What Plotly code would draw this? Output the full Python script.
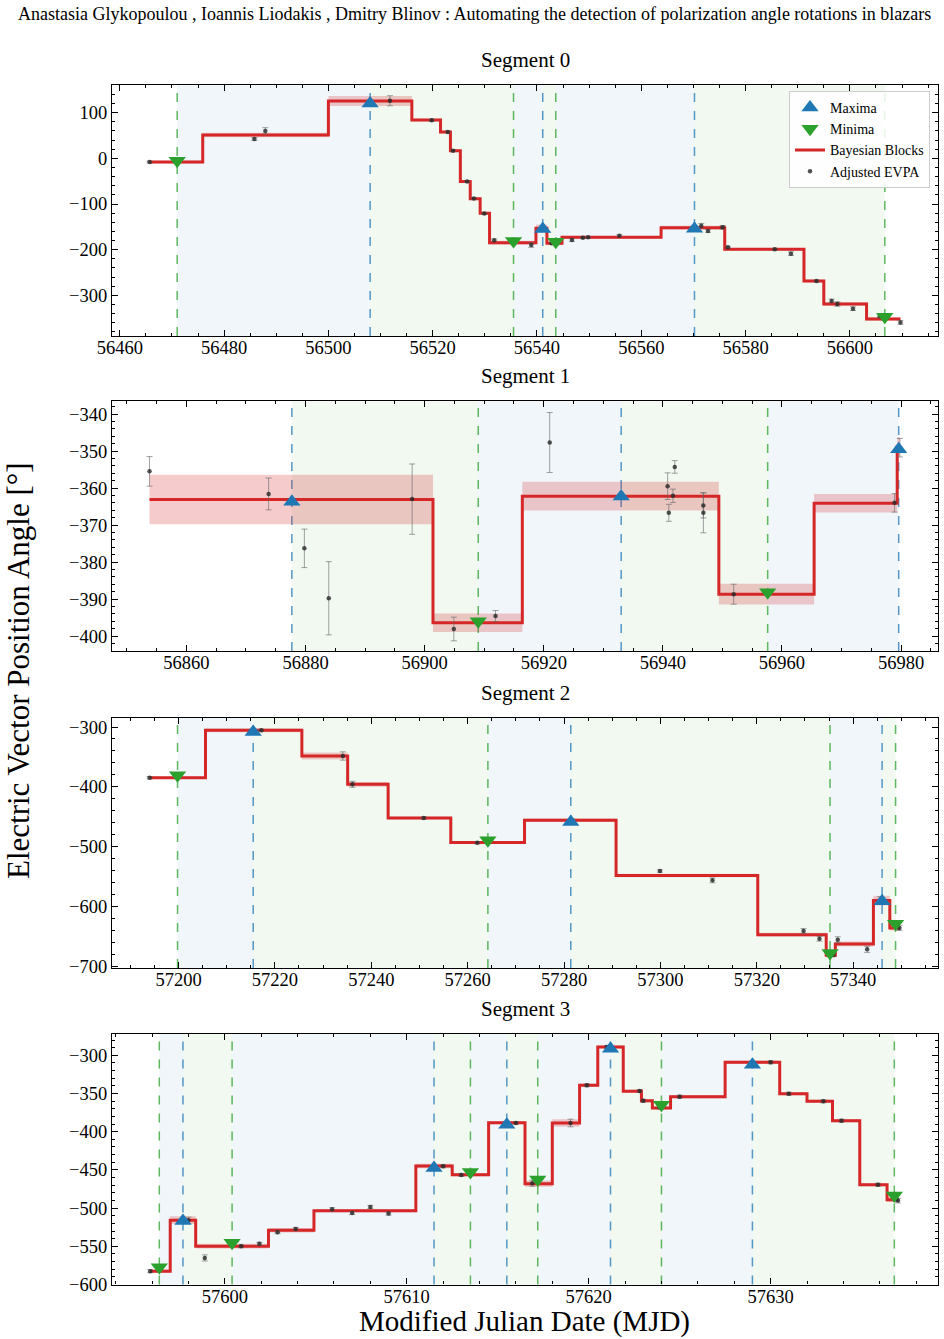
import plotly.graph_objects as go

FONT = "Liberation Serif"
BLUE = "#1f77b4"
GREEN = "#2ca02c"
RED = "#d62728"

# ---------------- Segment 0 ----------------
s0_t = [56465.7, 56485.8, 56487.9, 56511.8, 56519.8, 56522.9, 56523.9, 56526.6, 56527.9, 56529.9,
        56531.8, 56538.9, 56540.8, 56542.8, 56546.7, 56548.8, 56549.8, 56555.8, 56571.5, 56572.8,
        56575.6, 56576.6, 56585.6, 56588.7, 56593.6, 56596.5, 56597.6, 56600.6, 56605.7, 56609.7]
s0_y = [-8, 42, 60, 126, 83, 57.5, 16.7, -51, -88, -121,
        -179.5, -189.7, -154.7, -186, -178.8, -173.7, -172.9, -169.4, -147.5, -159,
        -151, -194.7, -199, -208.7, -268.5, -312, -318.8, -329, -345, -359]
s0_e = [2, 3, 7, 11, 2, 2, 2, 2, 2, 2, 3, 5, 3, 2, 3, 2, 2, 2, 5, 3, 4, 2, 2, 4, 2, 4, 5, 4, 4, 4]
s0_edges = [56465.7, 56475.9, 56500.0, 56516.0, 56521.5, 56523.4, 56525.3, 56527.2, 56529.1, 56530.9,
            56539.8, 56541.9, 56544.8, 56563.8, 56576.0, 56591.2, 56595.0, 56603.2, 56609.7]
s0_vals = [-8.1, 51, 125.4, 83.8, 57.5, 16.7, -51, -88.3, -120.4, -184.6,
           -153.2, -186, -172.9, -151.8, -199, -268.5, -318.8, -351.6]
s0_berr = [3, 5, 11, 3, 3, 3, 3, 3, 3, 4, 8, 4, 3, 4, 3, 3, 4, 4]
s0_max_t = [56508.0, 56541.1, 56570.2]
s0_max_y = [120.1, -154.7, -154.0]
s0_min_t = [56471.0, 56535.5, 56543.6, 56606.7]
s0_min_y = [-5.2, -181.0, -182.5, -346.6]
s0_xrange = [56458.5, 56616.9]
s0_yrange = [-388.8, 160.4]

# ---------------- Segment 1 ----------------
s1_t = [56853.8, 56873.8, 56879.8, 56883.9, 56897.9, 56904.9, 56911.9, 56921.0, 56940.8, 56941.0,
        56941.7, 56942.0, 56946.8, 56946.8, 56951.9, 56978.9, 56979.8]
s1_y = [-355.5, -361.6, -376.3, -389.8, -363.0, -398.1, -394.6, -347.7, -359.5, -366.7,
        -362.1, -354.3, -364.7, -366.7, -388.7, -364.0, -349.1]
s1_e = [4.0, 4.3, 5.2, 9.9, 9.5, 3.2, 1.5, 8.1, 3.6, 2.3, 1.8, 1.7, 3.4, 5.4, 2.7, 2.5, 2.5]
s1_edges = [56853.8, 56901.4, 56916.4, 56949.4, 56965.4, 56979.35, 56979.8]
s1_vals = [-363.1, -396.4, -362.2, -388.7, -364.1, -348.8]
s1_berr = [6.7, 2.5, 3.9, 2.8, 2.5, 2.5]
s1_max_t = [56877.7, 56933.0, 56979.6]
s1_max_y = [-363.7, -362.3, -349.5]
s1_min_t = [56909.0, 56957.6]
s1_min_y = [-396.0, -388.2]
s1_xrange = [56847.5, 56986.2]
s1_yrange = [-404.05, -336.4]

# ---------------- Segment 2 ----------------
s2_t = [57194.0, 57217.2, 57234.1, 57236.1, 57250.9, 57262.0, 57281.7, 57299.9, 57310.8, 57329.7,
        57333.0, 57335.9, 57336.8, 57342.9, 57345.6, 57349.6]
s2_y = [-384.8, -305.6, -348.5, -395.9, -452.3, -493.6, -456.2, -541.0, -556.6, -641.4,
        -654.3, -681.1, -656.0, -672.1, -590.0, -636.4]
s2_e = [2, 2, 7, 5, 2, 2, 2, 2, 4, 4, 4, 3, 5, 5, 6, 4]
s2_edges = [57194.0, 57205.6, 57225.6, 57235.1, 57243.5, 57256.5, 57271.8, 57290.8, 57320.2, 57334.4,
            57336.3, 57344.2, 57347.6, 57349.6]
s2_vals = [-384.8, -305.6, -348.5, -395.9, -452.3, -493.3, -456.0, -548.5, -647.5, -682.0,
           -663.0, -590.5, -636.4]
s2_berr = [2, 3, 6, 4, 2, 2, 3, 3, 3, 4, 4, 8, 4]
s2_max_t = [57215.5, 57281.4, 57346.0]
s2_max_y = [-308.4, -459.0, -591.7]
s2_min_t = [57199.8, 57264.2, 57335.2, 57348.8]
s2_min_y = [-380.9, -489.7, -678.0, -629.2]
s2_xrange = [57186.2, 57357.6]
s2_yrange = [-703.3, -284.4]

# ---------------- Segment 3 ----------------
s3_t = [57595.9, 57598.0, 57598.9, 57600.9, 57601.9, 57602.9, 57603.9, 57605.9, 57607.0, 57608.0,
        57609.0, 57612.0, 57613.0, 57616.0, 57616.9, 57619.0, 57619.9, 57621.0, 57622.8, 57623.0,
        57623.9, 57625.0, 57630.0, 57631.0, 57632.9, 57633.9, 57635.9, 57636.9, 57637.0]
s3_y = [-582.5, -515.8, -565.2, -549.8, -546.8, -531.5, -527.2, -501.5, -506.3, -498.4,
        -507.2, -445.2, -456.6, -388.6, -467.4, -388.6, -339.2, -289.1, -346.7, -359.4,
        -368.0, -354.1, -309.2, -350.2, -360.2, -385.5, -469.3, -488.0, -490.2]
s3_e = [2, 4, 4, 2, 2, 2, 2, 2, 2, 2, 2, 2, 2, 2, 4, 5, 2, 2, 2, 2, 2, 2, 2, 2, 2, 2, 2, 3, 3]
s3_edges = [57595.9, 57597.0, 57598.4, 57602.4, 57604.9, 57610.5, 57612.5, 57614.5, 57616.5, 57618.0,
            57619.5, 57620.5, 57621.9, 57622.9, 57623.5, 57624.5, 57627.5, 57630.5, 57632.0, 57633.4,
            57634.9, 57636.4, 57637.0]
s3_vals = [-582.5, -515.8, -549.8, -528.9, -503.3, -444.8, -456.2, -388.2, -468.0, -388.6,
           -339.2, -289.1, -347.1, -359.4, -368.9, -354.1, -309.2, -350.2, -360.2, -385.5,
           -469.3, -488.9]
s3_berr = [2, 5, 3, 3, 2, 3, 2, 2, 4, 5, 2, 2, 2, 2, 2, 2, 2, 2, 2, 2, 2, 3]
s3_max_t = [57597.7, 57611.5, 57615.5, 57621.2, 57629.0]
s3_max_y = [-517.0, -447.4, -390.8, -291.4, -312.3]
s3_min_t = [57596.4, 57600.4, 57613.5, 57617.2, 57624.0, 57636.8]
s3_min_y = [-577.3, -545.5, -452.7, -462.7, -364.6, -483.6]
s3_xrange = [57593.8, 57639.2]
s3_yrange = [-600.0, -271.7]

segment_titles = ["Segment 0", "Segment 1", "Segment 2", "Segment 3"]
x_dticks = [20, 20, 20, 10]
x_minor = [5, 5, 5, 2]
y_dticks = [100, 10, 100, 50]
y_minor = [20, 2, 20, 10]

segments = [
    (s0_t, s0_y, s0_e, s0_edges, s0_vals, s0_berr, s0_max_t, s0_max_y, s0_min_t, s0_min_y, s0_xrange, s0_yrange),
    (s1_t, s1_y, s1_e, s1_edges, s1_vals, s1_berr, s1_max_t, s1_max_y, s1_min_t, s1_min_y, s1_xrange, s1_yrange),
    (s2_t, s2_y, s2_e, s2_edges, s2_vals, s2_berr, s2_max_t, s2_max_y, s2_min_t, s2_min_y, s2_xrange, s2_yrange),
    (s3_t, s3_y, s3_e, s3_edges, s3_vals, s3_berr, s3_max_t, s3_max_y, s3_min_t, s3_min_y, s3_xrange, s3_yrange),
]

W, H = 944, 1339
x_dom = [112 / W, 938 / W]
y_px = [(85, 336), (400.7, 651), (717.7, 968), (1033.7, 1284.5)]

fig = go.Figure()
shapes = []
annotations = []
layout_axes = {}

for i, (t, y, e, edges, vals, berr, mxt, mxy, mnt, mny, xr, yr) in enumerate(segments):
    sfx = "" if i == 0 else str(i + 1)
    xref, yref = "x" + sfx, "y" + sfx
    top, bot = y_px[i]

    # shaded rotation regions
    events = sorted([(tt, "max") for tt in mxt] + [(tt, "min") for tt in mnt])
    for (ta, ka), (tb, kb) in zip(events[:-1], events[1:]):
        if ka == "min" and kb == "max":
            col = "rgba(31,119,180,0.065)"
        elif ka == "max" and kb == "min":
            col = "rgba(44,160,44,0.065)"
        else:
            continue
        shapes.append(dict(type="rect", xref=xref, yref=yref + " domain", x0=ta, x1=tb, y0=0, y1=1,
                           fillcolor=col, line_width=0, layer="below"))
    # block error bands
    for k in range(len(vals)):
        shapes.append(dict(type="rect", xref=xref, yref=yref, x0=edges[k], x1=edges[k + 1],
                           y0=vals[k] - berr[k], y1=vals[k] + berr[k],
                           fillcolor="rgba(214,39,40,0.24)", line_width=0, layer="below"))
    # vertical dashed lines
    for tt in mxt:
        shapes.append(dict(type="line", xref=xref, yref=yref + " domain", x0=tt, x1=tt, y0=0, y1=1,
                           line=dict(color="rgba(31,119,180,0.75)", width=1.5, dash="dash"), layer="below"))
    for tt in mnt:
        shapes.append(dict(type="line", xref=xref, yref=yref + " domain", x0=tt, x1=tt, y0=0, y1=1,
                           line=dict(color="rgba(44,160,44,0.75)", width=1.5, dash="dash"), layer="below"))

    show = i == 0
    fig.add_trace(go.Scatter(x=edges, y=vals + [vals[-1]], mode="lines", line_shape="hv",
                             name="Bayesian Blocks", legendrank=3,
                             line=dict(color=RED, width=3), xaxis=xref, yaxis=yref, showlegend=show))
    fig.add_trace(go.Scatter(x=t, y=y, mode="markers", name="Adjusted EVPA", legendrank=4,
                             marker=dict(size=4.5, color="rgba(40,40,40,0.8)"),
                             error_y=dict(type="data", array=e, color="rgba(100,100,100,0.6)",
                                          thickness=1, width=3),
                             xaxis=xref, yaxis=yref, showlegend=show))
    fig.add_trace(go.Scatter(x=mxt, y=mxy, mode="markers", name="Maxima", legendrank=1,
                             marker=dict(symbol="triangle-up", size=15, color=BLUE),
                             xaxis=xref, yaxis=yref, showlegend=show))
    fig.add_trace(go.Scatter(x=mnt, y=mny, mode="markers", name="Minima", legendrank=2,
                             marker=dict(symbol="triangle-down", size=15, color=GREEN),
                             xaxis=xref, yaxis=yref, showlegend=show))

    axcommon = dict(showline=True, linecolor="black", linewidth=1.2, mirror="allticks",
                    ticks="inside", ticklen=6, tickwidth=1, tickcolor="black",
                    showgrid=False, zeroline=False, automargin=False, tickformat="d",
                    tickfont=dict(family=FONT, size=18.5, color="black"))
    layout_axes["xaxis" + sfx] = dict(axcommon, domain=x_dom, anchor=yref, range=xr,
                                       dtick=x_dticks[i], tick0=0, ticklabelstandoff=-5,
                                       minor=dict(dtick=x_minor[i], tick0=0, ticks="inside", ticklen=3,
                                                  tickcolor="black", showgrid=False))
    layout_axes["yaxis" + sfx] = dict(axcommon, domain=[1 - bot / H, 1 - top / H], anchor=xref, range=yr,
                                       dtick=y_dticks[i], tick0=0,
                                       minor=dict(dtick=y_minor[i], tick0=0, ticks="inside", ticklen=3,
                                                  tickcolor="black", showgrid=False))
    annotations.append(dict(text=segment_titles[i], xref="paper", yref="paper",
                            x=525 / W, y=1 - (top - 25) / H, xanchor="center", yanchor="middle",
                            showarrow=False, font=dict(family=FONT, size=21, color="black")))

annotations.append(dict(text="Anastasia Glykopoulou , Ioannis Liodakis , Dmitry Blinov : Automating the detection of polarization angle rotations in blazars",
                        xref="paper", yref="paper", x=474 / W, y=1 - 14 / H, xanchor="center", yanchor="middle",
                        showarrow=False, font=dict(family=FONT, size=18, color="black")))
annotations.append(dict(text="Electric Vector Position Angle [°]", xref="paper", yref="paper",
                        x=18 / W, y=1 - 671 / H, xanchor="center", yanchor="middle", textangle=-90,
                        showarrow=False, font=dict(family=FONT, size=31, color="black")))
annotations.append(dict(text="Modified Julian Date (MJD)", xref="paper", yref="paper",
                        x=524 / W, y=1 - 1321 / H, xanchor="center", yanchor="middle",
                        showarrow=False, font=dict(family=FONT, size=29, color="black")))

fig.update_layout(width=W, height=H, margin=dict(l=0, r=0, t=0, b=0),
                  paper_bgcolor="white", plot_bgcolor="white",
                  shapes=shapes, annotations=annotations,
                  legend=dict(x=930 / W, xanchor="right", y=1 - 91 / H, yanchor="top",
                              bgcolor="rgba(255,255,255,0.85)", bordercolor="#cccccc", borderwidth=1,
                              font=dict(family=FONT, size=14, color="black"), tracegroupgap=0,
                              itemwidth=30),
                  **layout_axes)

fig.write_html("out.html")
